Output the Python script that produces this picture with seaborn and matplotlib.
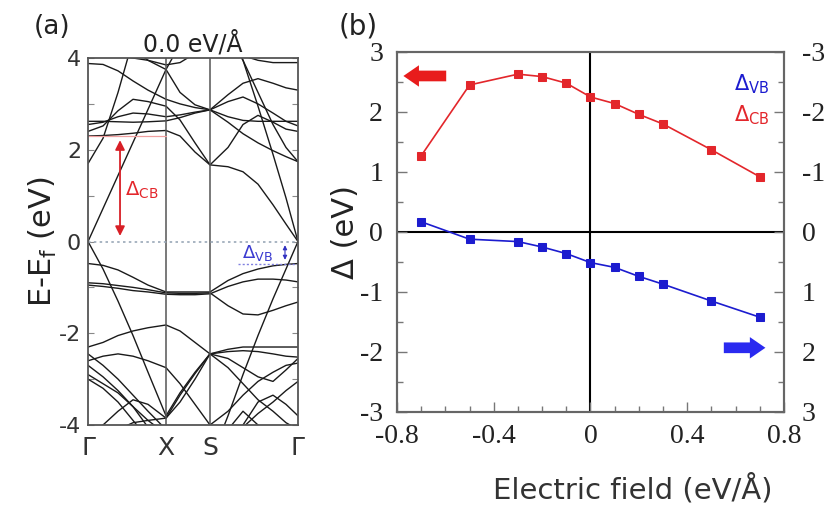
import numpy as np
import pandas as pd
import matplotlib
matplotlib.use("Agg")
import matplotlib.pyplot as plt
import seaborn as sns

# ── Panel (a): band structure ────────────────────────────────────────────────
# k-path positions (arbitrary path units): Γ, X, S, Γ
K_PTS = [0, 78, 122, 210]
K_LABELS = ["Γ", "X", "S", "Γ"]
k_grid = [0, 15, 30, 45, 60, 78, 92, 107, 122, 140, 155, 170, 185, 198, 210]

cb_bands = [
    [0.00, 0.72, 1.44, 2.16, 2.88, 3.75, 3.25, 2.98, 2.87, 3.20, 3.45, 3.55, 3.45, 3.35, 3.30],
    [2.30, 2.31, 2.33, 2.36, 2.40, 2.42, 2.30, 1.95, 1.67, 1.63, 1.52, 1.25, 0.80, 0.38, 0.00],
    [2.62, 2.62, 2.61, 2.60, 2.61, 2.63, 2.70, 2.80, 2.87, 2.72, 2.64, 2.62, 2.62, 2.62, 2.62],
    [2.55, 2.60, 2.72, 2.80, 2.78, 2.72, 2.76, 2.82, 2.87, 3.05, 3.15, 3.00, 2.80, 2.62, 2.52],
    [2.40, 2.52, 2.85, 3.10, 3.05, 2.95, 2.65, 2.15, 1.67, 2.05, 2.55, 2.75, 2.60, 2.45, 2.40],
    [3.88, 3.86, 3.72, 3.50, 3.30, 3.10, 3.00, 2.92, 2.87, 2.60, 2.35, 2.15, 1.98, 1.85, 1.74],
    [1.70, 2.25, 3.25, 4.40, 5.00, 5.00, 5.00, 5.00, 5.00, 4.70, 3.95, 3.25, 2.55, 2.05, 1.74],
    [5.00, 5.00, 4.60, 4.20, 3.95, 3.75, 4.30, 4.80, 5.00, 4.50, 3.95, 2.95, 1.90, 0.95, 0.00],
    [4.20, 4.10, 4.05, 4.00, 3.95, 3.85, 3.90, 4.10, 4.30, 4.20, 4.05, 3.95, 3.90, 3.90, 3.90],
]
vb_bands = [
    [0.00, -0.60, -1.30, -2.05, -2.85, -3.80, -3.30, -2.85, -2.45, -2.35, -2.30, -2.30, -2.30, -2.30, -2.30],
    [-4.60, -4.30, -4.10, -3.95, -3.90, -3.85, -3.35, -2.88, -2.45, -2.55, -2.75, -2.95, -3.05, -2.80, -2.55],
    [-0.48, -0.52, -0.62, -0.78, -0.95, -1.10, -1.10, -1.10, -1.10, -0.85, -0.70, -0.60, -0.53, -0.50, -0.48],
    [-0.90, -0.92, -0.96, -1.00, -1.05, -1.12, -1.13, -1.13, -1.12, -1.40, -1.58, -1.60, -1.50, -1.40, -1.32],
    [-0.95, -0.98, -1.02, -1.07, -1.10, -1.15, -1.16, -1.16, -1.14, -0.98, -0.88, -0.82, -0.82, -0.84, -0.88],
    [-2.30, -2.20, -2.05, -1.95, -1.88, -1.82, -1.95, -2.20, -2.45, -2.40, -2.38, -2.40, -2.45, -2.50, -2.52],
    [-2.45, -2.70, -3.00, -3.35, -3.70, -4.10, -4.60, -4.90, -5.00, -4.50, -4.00, -3.50, -3.35, -3.55, -3.80],
    [-2.70, -2.95, -3.25, -3.60, -4.05, -4.50, -4.70, -4.80, -4.80, -3.80, -2.90, -2.05, -1.25, -0.60, 0.00],
    [-4.30, -4.00, -3.70, -3.45, -3.55, -3.85, -3.50, -3.00, -2.45, -2.75, -3.10, -3.45, -3.70, -3.95, -4.10],
    [-2.60, -2.50, -2.45, -2.50, -2.60, -2.75, -3.10, -3.55, -4.00, -3.70, -3.35, -3.05, -2.85, -2.70, -2.65],
    [-3.00, -3.20, -3.50, -3.90, -4.30, -4.60, -4.60, -4.60, -4.60, -4.30, -4.05, -3.75, -3.50, -3.25, -3.05],
    [-2.90, -3.10, -3.30, -3.60, -3.90, -4.20, -4.40, -4.50, -4.50, -4.10, -3.70, -4.00, -4.30, -4.60, -4.80],
]
DELTA_CB_0 = 2.30
DELTA_VB_0 = 0.48

# ── Panel (b): Δ vs electric field ────────────────────────────────────────────
field    = [-0.7, -0.5, -0.3, -0.2, -0.1, 0.0, 0.1, 0.2, 0.3, 0.5, 0.7]
delta_cb = [1.27, 2.45, 2.63, 2.59, 2.48, 2.25, 2.14, 1.96, 1.80, 1.37, 0.92]
delta_vb = [-0.17, 0.12, 0.16, 0.25, 0.36, 0.51, 0.59, 0.74, 0.87, 1.15, 1.42]  # right axis (inverted)

RED  = "#e3262b"
BLUE = "#1c1ccf"

sns.set_theme(style="ticks")
plt.rcParams["font.family"] = ["DejaVu Sans"]
plt.rcParams["mathtext.fontset"] = "dejavusans"
SERIF = ["Liberation Serif", "DejaVu Serif"]

fig = plt.figure(figsize=(8.25, 5.08), dpi=100)
axa = fig.add_axes([0.1067, 0.1634, 0.2545, 0.7224])
axb = fig.add_axes([0.4812, 0.189, 0.469, 0.7087])

# ── (a) bands ─────────────────────────────────────────────────────────────────
rows = []
for i, band in enumerate(cb_bands + vb_bands):
    for k, e in zip(k_grid, band):
        rows.append({"band": i, "k": k, "E": e})
band_df = pd.DataFrame(rows)
sns.lineplot(data=band_df, x="k", y="E", units="band", estimator=None, sort=False,
             color="#1a1a1a", lw=1.0, ax=axa, legend=False)

for kp in K_PTS[1:-1]:
    axa.axvline(kp, color="#555555", lw=1.1)
axa.axhline(0, color="#9aa8b8", lw=1.2, ls=(0, (1.5, 2)))
axa.plot([0, K_PTS[1]], [DELTA_CB_0, DELTA_CB_0], color="#f0a0a0", lw=0.9)
axa.annotate("", xy=(32, DELTA_CB_0 - 0.03), xytext=(32, 0.06),
             arrowprops=dict(arrowstyle="<|-|>", color="#d81f26", lw=1.3,
                             mutation_scale=14))
axa.text(37, 1.12, r"Δ$_{\mathrm{CB}}$", color="#e3262b", fontsize=14, va="center")
axa.plot([150, K_PTS[-1]], [-DELTA_VB_0, -DELTA_VB_0], color="#8080e0", lw=1.0,
         ls=(0, (1.5, 1.5)))
axa.annotate("", xy=(197, -DELTA_VB_0 + 0.02), xytext=(197, -0.02),
             arrowprops=dict(arrowstyle="<|-|>", color="#3030c0", lw=0.8,
                             mutation_scale=6))
axa.text(154, -0.24, r"Δ$_{\mathrm{VB}}$", color="#3a3ad0", fontsize=13, va="center")

axa.set_xlim(K_PTS[0], K_PTS[-1])
axa.set_ylim(-4, 4)
axa.set_xticks(K_PTS)
axa.set_xticklabels(K_LABELS, fontsize=18)
axa.set_yticks([-4, -2, 0, 2, 4])
axa.set_yticklabels(["-4", "-2", "0", "2", "4"], fontsize=16)
axa.set_yticks([-3, -1, 1, 3], minor=True)
axa.tick_params(axis="x", length=0, pad=8, colors="#333333")
axa.tick_params(axis="y", which="both", direction="in", length=4, width=0.8,
                color="#888888", labelcolor="#333333", pad=5, right=True)
axa.set_xlabel("")
axa.set_ylabel(r"E-E$_{\mathrm{f}}$ (eV)", fontsize=22, color="#222222", labelpad=0)
for sp in axa.spines.values():
    sp.set_color("#555555")
    sp.set_linewidth(1.3)
axa.set_title("0.0 eV/Å", fontsize=17, color="#222222", pad=5)
fig.text(0.063, 0.947, "(a)", fontsize=19, color="#222222", ha="center", va="center")

# ── (b) Δ vs field ────────────────────────────────────────────────────────────
axr = axb.twinx()
sns.lineplot(x=field, y=delta_cb, ax=axb, color=RED, lw=1.2, marker="s",
             markersize=6, markeredgecolor=RED)
sns.lineplot(x=field, y=delta_vb, ax=axr, color=BLUE, lw=1.2, marker="s",
             markersize=6, markeredgecolor=BLUE)

axb.axvline(0, color="black", lw=1.5, zorder=0)
axb.axhline(0, color="black", lw=1.5, zorder=0)

axb.set_xlim(-0.8, 0.8)
axb.set_ylim(-3, 3)
axr.set_ylim(3, -3)

axb.set_xticks([-0.8, -0.4, 0, 0.4, 0.8])
axb.set_xticklabels(["-0.8", "-0.4", "0", "0.4", "0.8"], family=SERIF, fontsize=20)
axb.set_xticks(np.arange(-0.7, 0.8, 0.1), minor=True)
axb.set_yticks([-3, -2, -1, 0, 1, 2, 3])
axb.set_yticklabels(["-3", "-2", "-1", "0", "1", "2", "3"], family=SERIF, fontsize=20)
axb.set_yticks([-2.5, -1.5, -0.5, 0.5, 1.5, 2.5], minor=True)
axr.set_yticks([-3, -2, -1, 0, 1, 2, 3])
axr.set_yticklabels(["-3", "-2", "-1", "0", "1", "2", "3"], family=SERIF, fontsize=20)
axr.set_yticks([-2.5, -1.5, -0.5, 0.5, 1.5, 2.5], minor=True)

axb.tick_params(axis="both", which="both", direction="in", color="#777777",
                labelcolor="#222222", width=1.0)
axb.tick_params(axis="both", which="major", length=7)
axb.tick_params(axis="both", which="minor", length=4)
axb.tick_params(axis="x", which="both", top=False, pad=9)
axb.tick_params(axis="y", pad=10)
axr.tick_params(axis="y", which="both", direction="in", color="#777777",
                labelcolor="#222222", width=1.0, pad=13)
axr.tick_params(axis="y", which="major", length=7)
axr.tick_params(axis="y", which="minor", length=4)

for ax in (axb, axr):
    for sp in ax.spines.values():
        sp.set_color("#666666")
        sp.set_linewidth(1.5)

axb.set_xlabel("")
fig.text(633 / 825, 1 - 489 / 508, "Electric field (eV/Å)", fontsize=21,
         color="#333333", ha="center", va="center")
axb.set_ylabel("Δ (eV)", fontsize=22, color="#222222", labelpad=0)
axr.set_ylabel("")

# direction arrows telling which axis each series belongs to
arrow_style = "simple,head_width=1.1,head_length=0.8,tail_width=0.55"
axb.annotate("", xy=(-0.785, 2.6), xytext=(-0.585, 2.6),
             arrowprops=dict(arrowstyle=arrow_style, color="#e81c1c", lw=0,
                             mutation_scale=14))
axb.annotate("", xy=(0.735, -1.93), xytext=(0.54, -1.93),
             arrowprops=dict(arrowstyle=arrow_style, color="#2a2af0", lw=0,
                             mutation_scale=14))

axb.text(0.595, 2.47, r"Δ$_{\mathrm{VB}}$", color=BLUE, fontsize=15, va="center")
axb.text(0.595, 1.95, r"Δ$_{\mathrm{CB}}$", color=RED, fontsize=15, va="center")

fig.text(0.434, 0.947, "(b)", fontsize=20, color="#222222", ha="center", va="center")

fig.savefig("out.png", dpi=100)
